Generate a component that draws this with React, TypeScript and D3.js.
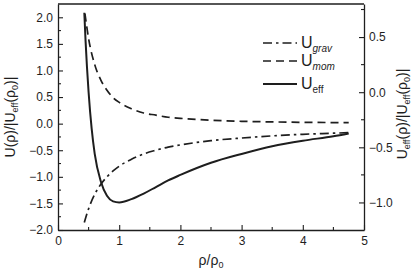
import * as d3 from 'd3';
import React, { useEffect, useRef } from 'react';

// values
const rhoGrav = [0.43, 0.5, 0.6, 0.7, 0.8, 0.9, 1.0, 1.2, 1.4, 1.6, 1.8, 2.0, 2.5, 3.0, 3.5, 4.0, 4.5, 4.75];
const uGrav = [-1.86, -1.6, -1.33, -1.14, -1.0, -0.89, -0.8, -0.67, -0.57, -0.5, -0.44, -0.4, -0.32, -0.27, -0.23, -0.2, -0.18, -0.17];

const rhoMom = [0.44, 0.5, 0.6, 0.7, 0.8, 0.9, 1.0, 1.2, 1.4, 1.6, 1.8, 2.0, 2.5, 3.0, 3.5, 4.0, 4.5, 4.75];
const uMom = [2.07, 1.6, 1.11, 0.82, 0.63, 0.49, 0.4, 0.28, 0.2, 0.16, 0.12, 0.1, 0.064, 0.044, 0.033, 0.025, 0.02, 0.018];

// U_eff is drawn against the right axis
const rhoEff = [0.43, 0.45, 0.5, 0.55, 0.6, 0.7, 0.8, 0.9, 1.0, 1.2, 1.4, 1.6, 1.8, 2.0, 2.5, 3.0, 3.5, 4.0, 4.5, 4.75];
const uEff = [0.72, 0.47, 0.0, -0.33, -0.56, -0.81, -0.94, -0.99, -1.0, -0.97, -0.92, -0.86, -0.8, -0.75, -0.64, -0.56, -0.49, -0.44, -0.4, -0.375];

const xTicks = [0, 1, 2, 3, 4, 5];
const xMinor = [0.5, 1.5, 2.5, 3.5, 4.5];
const leftTicks = [-2.0, -1.5, -1.0, -0.5, 0.0, 0.5, 1.0, 1.5, 2.0];
const leftMinor = [-1.75, -1.25, -0.75, -0.25, 0.25, 0.75, 1.25, 1.75];
const rightTicks = [-1.0, -0.5, 0.0, 0.5];
const rightMinor = [-0.75, -0.25, 0.25, 0.75];

const ink = '#1e1e1e';
const font = '"Liberation Sans", Arial, sans-serif';
const dashMom = '8,5';
const dashGrav = '9,4,2.5,4';

const App = () => {
  const svgRef = useRef<SVGSVGElement>(null);

  useEffect(() => {
    const margin = { top: 4, right: 55, bottom: 40, left: 58 };
    const W = 419;
    const H = 270;
    const width = W - margin.left - margin.right;
    const height = H - margin.top - margin.bottom;

    const root = d3.select(svgRef.current);
    root.selectAll('*').remove();
    const svg = root.append('g').attr('transform', `translate(${margin.left}, ${margin.top})`);

    const x = d3.scaleLinear().domain([0, 5]).range([0, width]);
    const yL = d3.scaleLinear().domain([-2, 2.25]).range([height, 0]);
    const yR = d3.scaleLinear().domain([-1.25, 0.8]).range([height, 0]);

    const styleAxis = (g: d3.Selection<SVGGElement, unknown, null, undefined>) => {
      g.selectAll('path').attr('stroke', ink).attr('stroke-width', 1.3);
      g.selectAll('line').attr('stroke', ink).attr('stroke-width', 1.1);
      g.selectAll('text').attr('fill', ink).attr('font-size', 12).attr('font-family', font);
    };

    // minor ticks
    const minor = svg.append('g').attr('stroke', ink).attr('stroke-width', 1.1);
    xMinor.forEach((v) => minor.append('line').attr('x1', x(v)).attr('x2', x(v)).attr('y1', height).attr('y2', height - 3));
    leftMinor.forEach((v) => minor.append('line').attr('x1', 0).attr('x2', 3).attr('y1', yL(v)).attr('y2', yL(v)));
    rightMinor.forEach((v) => minor.append('line').attr('x1', width).attr('x2', width - 3).attr('y1', yR(v)).attr('y2', yR(v)));

    svg
      .append('g')
      .attr('transform', `translate(0, ${height})`)
      .call(d3.axisBottom(x).tickValues(xTicks).tickFormat(d3.format('d')).tickSize(-5).tickSizeOuter(0).tickPadding(6.5))
      .call(styleAxis);

    svg
      .append('g')
      .call(d3.axisLeft(yL).tickValues(leftTicks).tickFormat(d3.format('.1f')).tickSize(-5).tickSizeOuter(0).tickPadding(5))
      .call(styleAxis);

    svg
      .append('g')
      .attr('transform', `translate(${width}, 0)`)
      .call(d3.axisRight(yR).tickValues(rightTicks).tickFormat(d3.format('.1f')).tickSize(-5).tickSizeOuter(0).tickPadding(5))
      .call(styleAxis);

    // top frame
    svg.append('line').attr('x1', 0).attr('x2', width).attr('y1', 0).attr('y2', 0).attr('stroke', ink).attr('stroke-width', 1.3);

    const drawCurve = (rs: number[], us: number[], y: d3.ScaleLinear<number, number>, dash: string | null) => {
      const line = d3
        .line<number>()
        .x((_, i) => x(rs[i]))
        .y((d) => y(d))
        .curve(d3.curveMonotoneX);
      const p = svg
        .append('path')
        .datum(us)
        .attr('d', line)
        .attr('fill', 'none')
        .attr('stroke', ink)
        .attr('stroke-width', dash ? 1.7 : 2);
      if (dash) p.attr('stroke-dasharray', dash);
    };

    drawCurve(rhoMom, uMom, yL, dashMom);
    drawCurve(rhoGrav, uGrav, yL, dashGrav);
    drawCurve(rhoEff, uEff, yR, null);

    // legend
    const legend = root.append('g').attr('font-family', font).attr('fill', ink);
    const items = [
      { sub: 'grav', italic: true, dash: dashGrav, y: 43 },
      { sub: 'mom', italic: true, dash: dashMom, y: 61 },
      { sub: 'eff', italic: false, dash: null, y: 84 },
    ];
    items.forEach((it) => {
      const l = legend
        .append('line')
        .attr('x1', 263)
        .attr('x2', 297)
        .attr('y1', it.y)
        .attr('y2', it.y)
        .attr('stroke', ink)
        .attr('stroke-width', it.dash ? 1.7 : 2);
      if (it.dash) l.attr('stroke-dasharray', it.dash);
      const t = legend.append('text').attr('x', 301).attr('y', it.y + 5).attr('font-size', 16);
      t.append('tspan').text('U');
      t.append('tspan')
        .attr('font-size', 10)
        .attr('dy', 4)
        .attr('font-style', it.italic ? 'italic' : 'normal')
        .text(it.sub);
    });

    // axis titles
    const leftTitle = root
      .append('text')
      .attr('transform', `translate(15, ${margin.top + height / 2}) rotate(-90)`)
      .attr('text-anchor', 'middle')
      .attr('font-family', font)
      .attr('font-size', 14)
      .attr('fill', ink);
    leftTitle.append('tspan').text('U(ρ)/|U');
    leftTitle.append('tspan').attr('font-size', 9).attr('dy', 3).text('eff');
    leftTitle.append('tspan').attr('dy', -3).text('(ρ');
    leftTitle.append('tspan').attr('font-size', 9).attr('dy', 3).text('0');
    leftTitle.append('tspan').attr('dy', -3).text(')|');

    const rightTitle = root
      .append('text')
      .attr('transform', `translate(407, ${margin.top + height / 2 - 3}) rotate(-90)`)
      .attr('text-anchor', 'middle')
      .attr('font-family', font)
      .attr('font-size', 14)
      .attr('fill', ink);
    rightTitle.append('tspan').text('U');
    rightTitle.append('tspan').attr('font-size', 9).attr('dy', 3).text('eff');
    rightTitle.append('tspan').attr('dy', -3).text('(ρ)/|U');
    rightTitle.append('tspan').attr('font-size', 9).attr('dy', 3).text('eff');
    rightTitle.append('tspan').attr('dy', -3).text('(ρ');
    rightTitle.append('tspan').attr('font-size', 9).attr('dy', 3).text('0');
    rightTitle.append('tspan').attr('dy', -3).text(')|');

    const xTitle = root
      .append('text')
      .attr('x', margin.left + width / 2)
      .attr('y', 265)
      .attr('text-anchor', 'middle')
      .attr('font-family', font)
      .attr('font-size', 14)
      .attr('fill', ink);
    xTitle.append('tspan').text('ρ/ρ');
    xTitle.append('tspan').attr('font-size', 9).attr('dy', 3).text('0');
  }, []);

  return (
    <svg
      ref={svgRef}
      width={419}
      height={270}
      style={{ position: 'absolute', left: 0, top: 0, background: '#fff' }}
    />
  );
};

export default App;
